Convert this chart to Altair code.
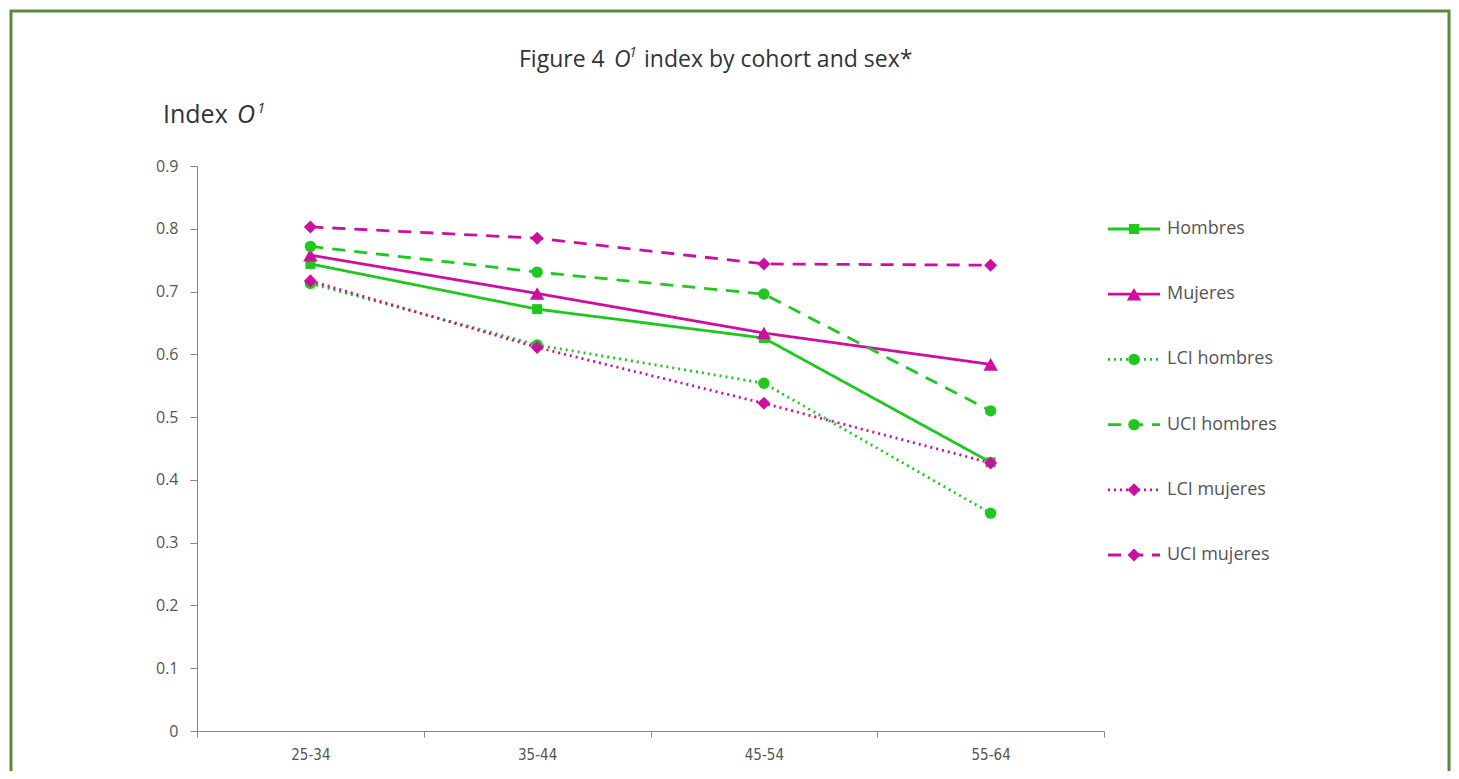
import altair as alt
import pandas as pd

cohorts = ["25-34", "35-44", "45-54", "55-64"]
series_names = ["Hombres", "Mujeres", "LCI hombres", "UCI hombres", "LCI mujeres", "UCI mujeres"]
hombres = [0.744, 0.672, 0.626, 0.428]
mujeres = [0.758, 0.697, 0.634, 0.584]
lci_hombres = [0.713, 0.615, 0.554, 0.347]
uci_hombres = [0.772, 0.731, 0.696, 0.510]
lci_mujeres = [0.717, 0.611, 0.522, 0.427]
uci_mujeres = [0.803, 0.785, 0.744, 0.742]
y_ticks = [0, 0.1, 0.2, 0.3, 0.4, 0.5, 0.6, 0.7, 0.8, 0.9]

GREEN = "#1ec81e"
MAGENTA = "#cc0f9e"
colors = [GREEN, MAGENTA, GREEN, GREEN, MAGENTA, MAGENTA]
dashes = [[1, 0], [1, 0], [2, 4], [13, 9], [2, 4], [13, 9]]
shapes = ["square", "triangle-up", "circle", "circle", "diamond", "diamond"]
sizes = [100, 210, 130, 130, 170, 170]
size_of = dict(zip(series_names, sizes))

values = [hombres, mujeres, lci_hombres, uci_hombres, lci_mujeres, uci_mujeres]
rows = []
for name, vals in zip(series_names, values):
    for c, v in zip(cohorts, vals):
        rows.append({"series": name, "cohort": c, "value": v, "msize": size_of[name]})
df = pd.DataFrame(rows)
leg = pd.DataFrame({"series": series_names, "msize": sizes})

color_scale = alt.Scale(domain=series_names, range=colors)
dash_scale = alt.Scale(domain=series_names, range=dashes)
shape_scale = alt.Scale(domain=series_names, range=shapes)

X_FONT = "DejaVu Sans Condensed, Liberation Sans Narrow, sans-serif"
TXT_FONT = "Open Sans, Noto Sans, sans-serif"

x_enc = alt.X("cohort:N", sort=cohorts, title=None,
              scale=alt.Scale(paddingInner=0, paddingOuter=0),
              axis=alt.Axis(labelAngle=0, tickBand="extent", labelFont=X_FONT,
                            labelFontSize=15, labelColor="#555", domainColor="#888",
                            tickColor="#888", tickSize=6, labelPadding=10))
y_enc = alt.Y("value:Q", title=None,
              scale=alt.Scale(domain=[0, 0.9], nice=False),
              axis=alt.Axis(values=y_ticks, labelExpr="datum.value == 0 ? '0' : format(datum.value, '.1f')",
                            labelFont=TXT_FONT, labelFontSize=16, labelColor="#555",
                            domainColor="#888", tickColor="#888", tickSize=7,
                            labelPadding=12, grid=False))

lines = alt.Chart(df).mark_line(strokeWidth=2.8, strokeCap="butt").encode(
    x=x_enc, y=y_enc,
    color=alt.Color("series:N", scale=color_scale, legend=None),
    strokeDash=alt.StrokeDash("series:N", scale=dash_scale, legend=None),
    detail="series:N",
)
pts = alt.Chart(df).mark_point(filled=True, opacity=1).encode(
    x=alt.X("cohort:N", sort=cohorts),
    y=alt.Y("value:Q"),
    color=alt.Color("series:N", scale=color_scale, legend=None),
    shape=alt.Shape("series:N", scale=shape_scale, legend=None),
    size=alt.Size("msize:Q", scale=None, legend=None),
)
main = alt.layer(lines, pts)

ly = alt.Y("series:N", sort=series_names, axis=None,
           scale=alt.Scale(type="point", range=[63, 389], padding=0))
leg_line = alt.Chart(leg).mark_rule(strokeWidth=2.8).encode(
    x=alt.value(911), x2=alt.value(963), y=ly,
    color=alt.Color("series:N", scale=color_scale, legend=None),
    strokeDash=alt.StrokeDash("series:N", scale=dash_scale, legend=None),
)
leg_pt = alt.Chart(leg).mark_point(filled=True, opacity=1).encode(
    x=alt.value(937), y=ly,
    color=alt.Color("series:N", scale=color_scale, legend=None),
    shape=alt.Shape("series:N", scale=shape_scale, legend=None),
    size=alt.Size("msize:Q", scale=None, legend=None),
)
leg_txt = alt.Chart(leg).mark_text(align="left", baseline="middle", font=TXT_FONT,
                                   fontSize=18, color="#555").encode(
    x=alt.value(970), y=ly, text="series:N")
legend = alt.layer(leg_line, leg_pt, leg_txt)

one = pd.DataFrame({"a": [1]})
border = alt.Chart(one).mark_rect(filled=False, stroke="#5b8a3c", strokeWidth=3).encode(
    x=alt.value(-186), x2=alt.value(1252), y=alt.value(-155), y2=alt.value(700))

def txt(t, x, y, size, style="normal", align="left", color="#333"):
    return alt.Chart(one).mark_text(text=t, align=align, baseline="alphabetic", font=TXT_FONT,
                                    fontSize=size, fontStyle=style, color=color).encode(
        x=alt.value(x), y=alt.value(y))

title = alt.layer(
    txt("Figure 4", 322, -99, 23),
    txt("O", 417, -99, 23, style="italic"),
    txt("1", 432, -109, 14, style="italic"),
    txt("index by cohort and sex*", 447, -99, 23),
    txt("Index", -34, -43, 25),
    txt("O", 40, -43, 25, style="italic"),
    txt("1", 60, -53, 15, style="italic"),
)

chart = alt.layer(border, main, legend, title).resolve_scale(
    y="independent", x="independent", color="shared"
).properties(
    width=907, height=565,
    autosize=alt.AutoSizeParams(type="none"),
    padding={"left": 189, "top": 158, "right": 347, "bottom": 40},
).configure_view(stroke=None)

chart.save("out.html", embed_options={"renderer": "svg", "actions": False})
